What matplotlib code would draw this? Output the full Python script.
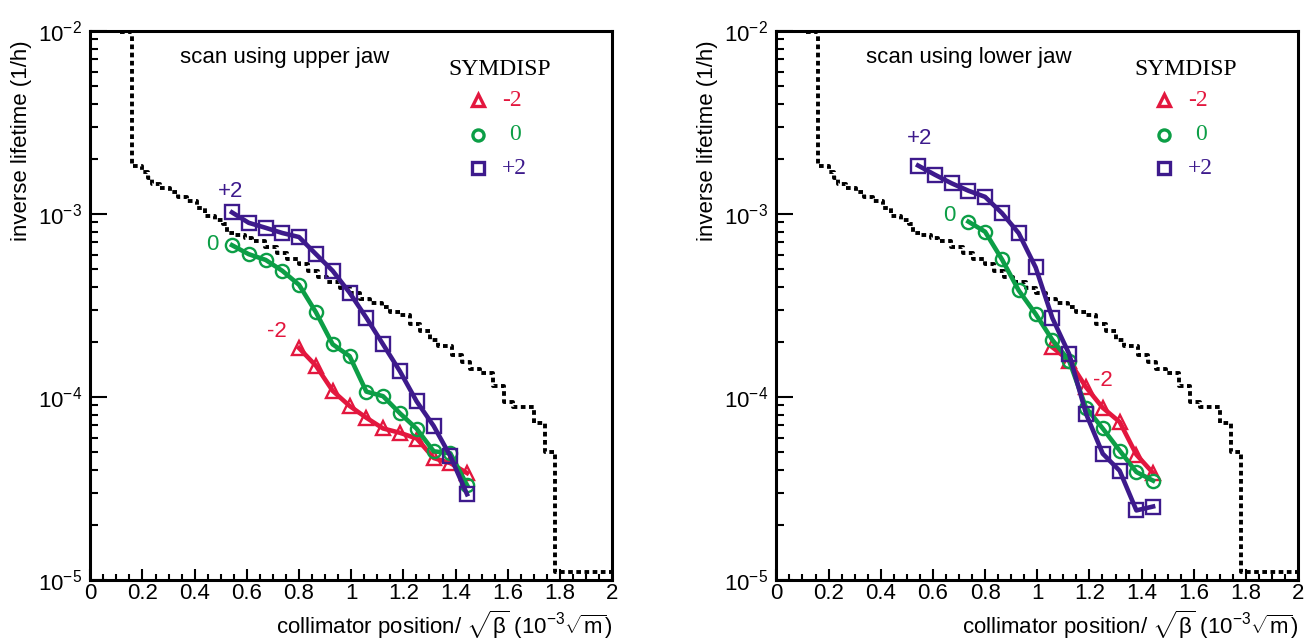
import numpy as np
import matplotlib
matplotlib.use("Agg")
import matplotlib.pyplot as plt
from matplotlib.ticker import FixedLocator, LogLocator, NullFormatter, FuncFormatter

plt.rcParams['font.family'] = ['Liberation Sans', 'DejaVu Sans']
plt.rcParams['mathtext.fontset'] = 'custom'
plt.rcParams['mathtext.rm'] = 'Liberation Sans'
plt.rcParams['mathtext.it'] = 'Liberation Sans'
plt.rcParams['mathtext.sf'] = 'Liberation Sans'

# ---------------- data ----------------
# collimator positions (10^-3 sqrt(m))
x_pos = [0.543, 0.607, 0.672, 0.736, 0.800, 0.865, 0.929, 0.994,
         1.058, 1.122, 1.187, 1.251, 1.316, 1.380, 1.444]

# upper jaw scan
upper_p2 = [1.02e-3, 8.95e-4, 8.4e-4, 7.87e-4, 7.48e-4, 6.03e-4, 4.89e-4, 3.71e-4,
            2.71e-4, 1.94e-4, 1.38e-4, 9.45e-5, 6.95e-5, 4.75e-5, 2.94e-5]
upper_0 = [6.75e-4, 6.03e-4, 5.61e-4, 4.89e-4, 4.10e-4, 2.90e-4, 1.94e-4, 1.67e-4,
           1.07e-4, 1.01e-4, 8.14e-5, 6.70e-5, 5.05e-5, 4.92e-5, 3.3e-5]
upper_m2_x = x_pos[4:]
upper_m2 = [1.85e-4, 1.48e-4, 1.08e-4, 8.93e-5, 7.7e-5, 6.73e-5, 6.37e-5, 5.93e-5,
            4.64e-5, 4.35e-5, 3.84e-5]

# lower jaw scan
lower_p2 = [1.84e-3, 1.64e-3, 1.47e-3, 1.34e-3, 1.24e-3, 1.01e-3, 7.85e-4, 5.1e-4,
            2.7e-4, 1.72e-4, 8.1e-5, 4.9e-5, 3.95e-5, 2.4e-5, 2.52e-5]
lower_0_x = x_pos[3:]
lower_0 = [9.08e-4, 8.0e-4, 5.64e-4, 3.82e-4, 2.84e-4, 2.05e-4, 1.58e-4, 8.73e-5,
           6.73e-5, 5.09e-5, 3.89e-5, 3.49e-5]
lower_m2_x = x_pos[8:]
lower_m2 = [1.87e-4, 1.58e-4, 1.13e-4, 8.73e-5, 7.3e-5, 4.84e-5, 3.84e-5]

# simulated inverse lifetime (step histogram, same in both panels)
sim_x = [0.115, 0.159, 0.20, 0.222, 0.235, 0.267, 0.306, 0.337, 0.370, 0.408,
         0.440, 0.478, 0.510, 0.523, 0.555, 0.593, 0.620, 0.670, 0.715, 0.753,
         0.798, 0.836, 0.874, 0.906, 0.957, 0.996, 1.034, 1.072, 1.117, 1.149,
         1.188, 1.226, 1.264, 1.303, 1.334, 1.386, 1.424, 1.456, 1.494, 1.545,
         1.584, 1.622, 1.699, 1.744, 1.782, 2.0]
sim_y = [0.99e-2, 1.82e-3, 1.70e-3, 1.58e-3, 1.45e-3, 1.38e-3, 1.32e-3, 1.24e-3, 1.17e-3, 1.08e-3,
         9.8e-4, 9.3e-4, 8.8e-4, 7.9e-4, 7.7e-4, 7.4e-4, 7.1e-4, 6.6e-4, 6.1e-4, 5.7e-4,
         5.3e-4, 4.9e-4, 4.55e-4, 4.25e-4, 3.95e-4, 3.7e-4, 3.45e-4, 3.25e-4, 3.1e-4, 2.9e-4,
         2.8e-4, 2.5e-4, 2.3e-4, 2.05e-4, 1.9e-4, 1.7e-4, 1.56e-4, 1.43e-4, 1.35e-4, 1.15e-4,
         9.4e-5, 8.85e-5, 7.2e-5, 5.0e-5, 1.11e-5, 1.11e-5]

symdisp_labels = ['-2', '0', '+2']

RED = '#E3173E'
GREEN = '#0C9E46'
PURPLE = '#3D1A8C'

FS = 16

fig = plt.figure(figsize=(13.09, 6.41), dpi=100)
axL = fig.add_axes([0.0690, 0.0952, 0.3986, 0.8565])
axR = fig.add_axes([0.5931, 0.0952, 0.3986, 0.8565])

def sci_fmt(v, pos):
    e = int(round(np.log10(v)))
    return r'$\mathregular{10^{%d}}$' % e

def style_axes(ax):
    ax.set_xlim(0, 2)
    ax.set_yscale('log')
    ax.set_ylim(1e-5, 1e-2)
    for s in ax.spines.values():
        s.set_linewidth(2.2)
    ax.xaxis.set_major_locator(FixedLocator(np.arange(0, 2.01, 0.2)))
    ax.xaxis.set_minor_locator(FixedLocator(np.arange(0, 2.01, 0.05)))
    ax.xaxis.set_major_formatter(FuncFormatter(lambda v, p: '%g' % round(v, 1)))
    ax.yaxis.set_major_locator(LogLocator(base=10, numticks=10))
    ax.yaxis.set_minor_locator(LogLocator(base=10, subs=np.arange(2, 10), numticks=10))
    ax.yaxis.set_minor_formatter(NullFormatter())
    ax.yaxis.set_major_formatter(FuncFormatter(sci_fmt))
    ax.tick_params(axis='both', which='both', direction='in', top=False, right=False,
                   labelsize=FS, width=1.5)
    ax.tick_params(axis='y', which='major', length=12, pad=6)
    ax.tick_params(axis='y', which='minor', length=6)
    ax.tick_params(axis='x', which='major', length=8, pad=2)
    ax.tick_params(axis='x', which='minor', length=4)
    ax.set_ylabel('inverse lifetime (1/h)', fontsize=FS)
    ax.yaxis.set_label_coords(-0.111, 0.80)
    ax.set_xlabel(r'collimator position/ $\sqrt{\beta}$ (10$^{-3}$$\sqrt{\mathregular{m}}$)',
                  fontsize=FS, ha='right', va='top')
    ax.xaxis.set_label_coords(1.0, -0.052)

def draw_sim(ax):
    ax.plot(sim_x, sim_y, drawstyle='steps-post', color='black', lw=2.8,
            linestyle=(0, (1.2, 0.9)), dash_capstyle='butt', zorder=2)

def draw_legend(ax):
    ax.text(0.785, 0.929, 'SYMDISP', transform=ax.transAxes, ha='center', va='center',
            fontsize=17, family='Liberation Serif')
    mk = ['^', 'o', 's']
    cols = [RED, GREEN, PURPLE]
    ys = [0.874, 0.811, 0.750]
    xs = [0.789, 0.803, 0.789]
    for m, c, yy, xx, lab in zip(mk, cols, ys, xs, symdisp_labels):
        ax.plot([0.743], [yy], marker=m, mfc='none', mec=c, mew=2.4, ms=8,
                transform=ax.transAxes, clip_on=False, linestyle='none')
        ax.text(xx, yy, lab, transform=ax.transAxes, ha='left', va='center',
                fontsize=17, family='Liberation Serif', color=c)

def draw_series(ax, xs, ys, marker, color):
    ax.plot(xs, ys, color=color, lw=3.3, marker=marker, ms=9.5, mfc='none', mec=color,
            mew=1.7, zorder=3)

for ax in (axL, axR):
    style_axes(ax)
    draw_sim(ax)
    draw_legend(ax)

# left panel
draw_series(axL, upper_m2_x, upper_m2, '^', RED)
draw_series(axL, x_pos, upper_0, 'o', GREEN)
draw_series(axL, x_pos, upper_p2, 's', PURPLE)
axL.text(0.172, 0.951, 'scan using upper jaw', transform=axL.transAxes, ha='left',
         va='center', fontsize=FS)
axL.text(0.536, 1.32e-3, '+2', color=PURPLE, fontsize=FS, ha='center', va='center')
axL.text(0.466, 6.78e-4, '0', color=GREEN, fontsize=FS, ha='center', va='center')
axL.text(0.715, 2.27e-4, '-2', color=RED, fontsize=FS, ha='center', va='center')

# right panel
draw_series(axR, lower_m2_x, lower_m2, '^', RED)
draw_series(axR, lower_0_x, lower_0, 'o', GREEN)
draw_series(axR, x_pos, lower_p2, 's', PURPLE)
axR.text(0.172, 0.951, 'scan using lower jaw', transform=axR.transAxes, ha='left',
         va='center', fontsize=FS)
axR.text(0.548, 2.58e-3, '+2', color=PURPLE, fontsize=FS, ha='center', va='center')
axR.text(0.662, 9.75e-4, '0', color=GREEN, fontsize=FS, ha='center', va='center')
axR.text(1.251, 1.23e-4, '-2', color=RED, fontsize=FS, ha='center', va='center')

fig.savefig('out.png', dpi=100)
